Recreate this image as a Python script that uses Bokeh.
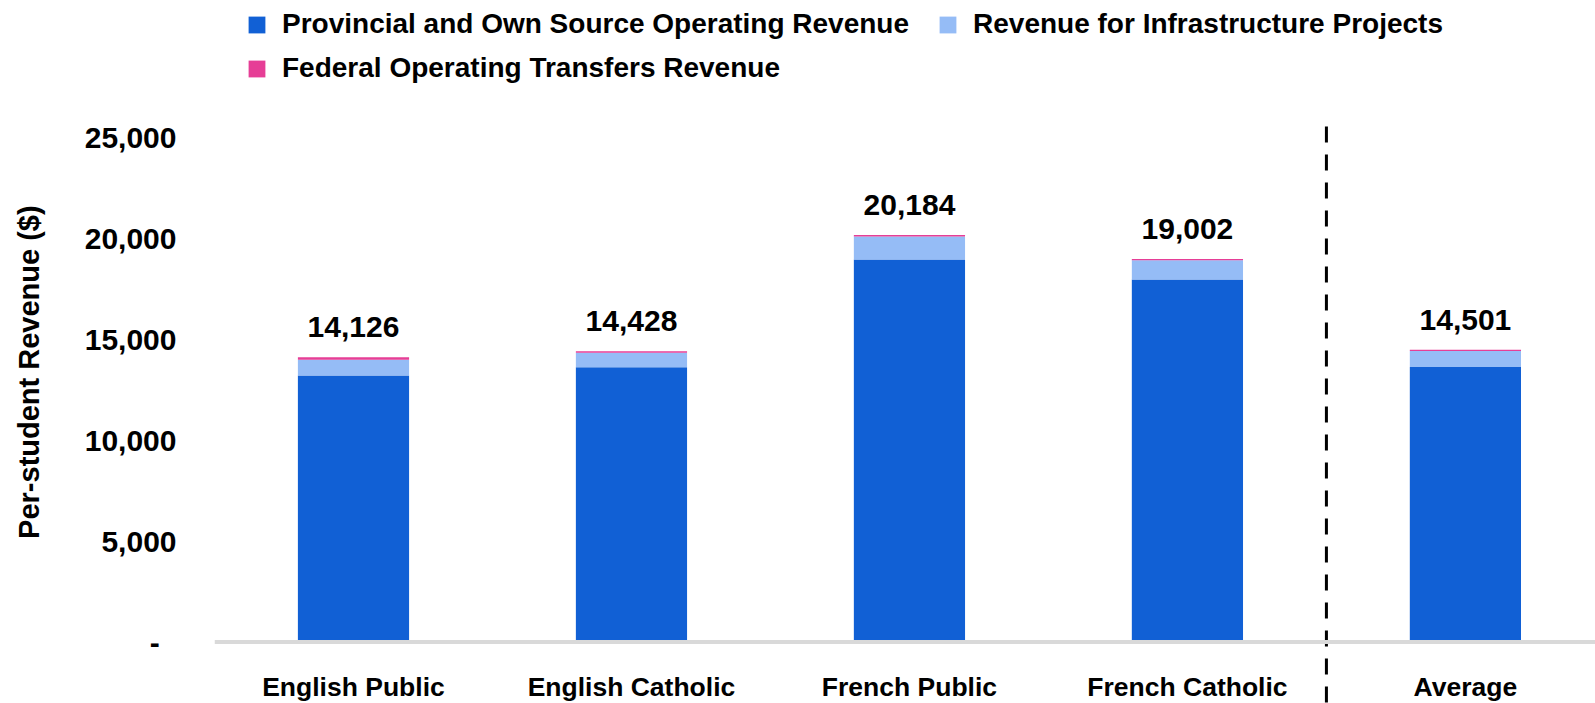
from bokeh.plotting import figure
from bokeh.models import (Range1d, FixedTicker, NumeralTickFormatter, Legend, LegendItem,
                          Span, LabelSet, ColumnDataSource)
from bokeh.core.properties import value
from bokeh.embed import file_html
from bokeh.resources import INLINE

categories = ["English Public", "English Catholic", "French Public", "French Catholic", "Average"]
provincial_own = [13220, 13630, 18970, 17980, 13640]
infrastructure = [786, 718, 1144, 952, 791]
federal = [120, 80, 70, 70, 70]
series_names = ["Provincial and Own Source Operating Revenue",
                "Revenue for Infrastructure Projects",
                "Federal Operating Transfers Revenue"]
y_ticks = [0, 5000, 10000, 15000, 20000, 25000]
colors = ["#1160D5", "#95BCF6", "#E63E96"]

totals = [a + b + c for a, b, c in zip(provincial_own, infrastructure, federal)]
xs = list(range(len(categories)))
src = ColumnDataSource(dict(
    x=xs, prov=provincial_own, infra=infrastructure, fed=federal,
    total=totals, total_lbl=[f"{t:,}" for t in totals], cat=categories,
))

FONT = "Liberation Sans"
NBSP = "\u00a0"

p = figure(width=1595, height=703, output_backend="svg", toolbar_location=None,
           x_range=Range1d(-0.5, 4.468), y_range=Range1d(-3050, 31820),
           x_axis_location=None,
           min_border_left=214, min_border_right=0, min_border_top=0, min_border_bottom=0)
p.outline_line_color = None
p.grid.visible = False
p.background_fill_color = "white"

yax = p.yaxis[0]
yax.ticker = FixedTicker(ticks=y_ticks)
yax.formatter = NumeralTickFormatter(format="0,0")
yax.major_label_overrides = {0: "-" + NBSP * 2}
yax.major_label_text_font = FONT
yax.major_label_text_font_size = "30px"
yax.major_label_text_font_style = "bold"
yax.major_label_text_color = "black"
yax.major_tick_line_color = None
yax.major_tick_out = 0
yax.minor_tick_line_color = None
yax.axis_line_color = None
yax.major_label_standoff = 38
yax.axis_label = "Per-student Revenue ($)" + NBSP * 5
yax.axis_label_text_font = FONT
yax.axis_label_text_font_size = "29px"
yax.axis_label_text_font_style = "bold"
yax.axis_label_text_color = "black"
yax.axis_label_standoff = 37

rs = p.vbar_stack(["prov", "infra", "fed"], x="x", width=0.4, source=src,
                  fill_color=colors, line_color=None)

p.text(x="x", y="total", text="total_lbl", source=src, text_align="center",
       text_baseline="alphabetic", y_offset=-30, text_font=value(FONT),
       text_font_size="30px", text_font_style="bold", text_color="black")

p.add_layout(Span(location=0, dimension="width", line_color="#D9D9D9", line_width=4))
# divider between the school-board categories and the average
p.segment(x0=[3.5], y0=[25570], x1=[3.5], y1=[-3050], line_color="black", line_width=3,
          line_dash="16 12")

p.add_layout(LabelSet(x="x", y=-2654, text="cat", source=src, text_align="center",
                      text_baseline="alphabetic", text_font=value(FONT),
                      text_font_size="26.5px", text_font_style="bold", text_color="black"))

common = dict(glyph_width=21, glyph_height=21, label_standoff=15, label_text_font=FONT,
              label_text_font_size="28px", label_text_font_style="bold",
              label_text_color="black", border_line_color=None, background_fill_alpha=0,
              padding=0, margin=0)
leg1 = Legend(items=[LegendItem(label=series_names[0], renderers=[rs[0]]),
                     LegendItem(label=series_names[1], renderers=[rs[1]])],
              orientation="horizontal", location=(32, 663), spacing=28, **common)
leg2 = Legend(items=[LegendItem(label=series_names[2], renderers=[rs[2]])],
              orientation="horizontal", location=(32, 619), **common)
p.add_layout(leg1)
p.add_layout(leg2)

open("out.html", "w").write(file_html(p, INLINE))
